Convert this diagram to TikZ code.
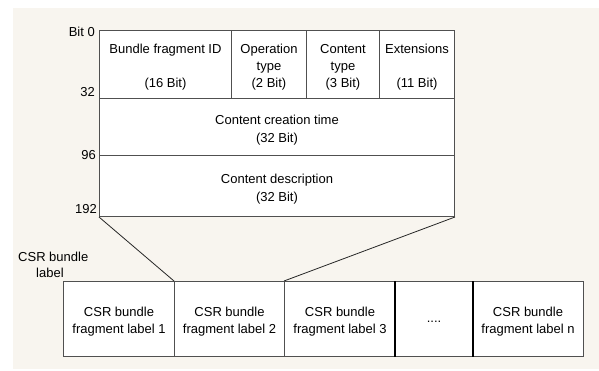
\documentclass[tikz,border=0pt]{standalone}
\usepackage{fontspec}
\setmainfont{Liberation Sans}
\definecolor{bgbeige}{RGB}{248,245,239}
\definecolor{linegray}{RGB}{80,80,80}
\begin{document}
\begin{tikzpicture}[x=1pt,y=-1pt,
  cell/.style={draw=linegray, fill=white, line width=1pt, inner sep=0pt,
    anchor=north west},
  txt/.style={inner sep=0pt, align=center, font=\fontsize{13}{16.8}\selectfont},
  lbl/.style={inner sep=0pt, font=\fontsize{13}{17}\selectfont},
  link/.style={draw=black!85, line width=0.8pt}]
\useasboundingbox (0,0) rectangle (599,370);
\fill[bgbeige] (13,8) rectangle (599,369);
% top structure
\node[cell, minimum width=132pt, minimum height=67.7pt] (c1) at (99,30) {};
\node[cell, minimum width=75pt, minimum height=67.7pt] (c2) at (231,30) {};
\node[cell, minimum width=73pt, minimum height=67.7pt] (c3) at (306,30) {};
\node[cell, minimum width=75pt, minimum height=67.7pt] (c4) at (379,30) {};
\node[cell, minimum width=355pt, minimum height=57.3pt] (r2) at (99,97.7) {};
\node[cell, minimum width=355pt, minimum height=61pt] (r3) at (99,155) {};
\node[txt] (t1) at ([yshift=-3pt]c1.center) {Bundle fragment ID\\[16.8pt](16 Bit)};
\node[txt] (t2) at ([yshift=-3pt]c2.center) {Operation\\type\\(2 Bit)};
\node[txt] (t3) at ([yshift=-3pt]c3.center) {Content\\type\\(3 Bit)};
\node[txt] (t4) at ([yshift=-3pt]c4.center) {Extensions\\[16.8pt](11 Bit)};
\node[txt] (t5) at ([yshift=-3pt]r2.center) {Content creation time\\[1.5pt](32 Bit)};
\node[txt] (t6) at ([yshift=-3pt]r3.center) {Content description\\[1.5pt](32 Bit)};
% bit offsets
\node[lbl, anchor=base east] (l0) at (95,36) {Bit 0};
\node[lbl, anchor=base east] (l32) at (95,96) {32};
\node[lbl, anchor=base east] (l96) at (96,159) {96};
\node[lbl, anchor=base east] (l192) at (97,213.5) {192};
% bundle label
\node[lbl, anchor=base west] (csr) at (18,261) {CSR bundle};
\node[lbl, anchor=base west] (csrl) at (36,277) {label};
% bottom boxes
\node[cell, minimum width=111pt, minimum height=75pt] (b1) at (63,281) {};
\node[cell, minimum width=110pt, minimum height=75pt] (b2) at (174,281) {};
\node[cell, minimum width=111pt, minimum height=75pt] (b3) at (284,281) {};
\node[cell, minimum width=77pt, minimum height=75pt] (b4) at (395,281) {};
\node[cell, minimum width=111pt, minimum height=75pt] (b5) at (472,281) {};
\draw[black, line width=1.3pt] (b4.north west) -- (b4.south west) (b4.north east) -- (b4.south east);
\node[txt] (s1) at ([yshift=-2.5pt]b1.center) {CSR bundle\\fragment label 1};
\node[txt] (s2) at ([yshift=-2.5pt]b2.center) {CSR bundle\\fragment label 2};
\node[txt] (s3) at ([yshift=-2.5pt]b3.center) {CSR bundle\\fragment label 3};
\node[txt] (s4) at ([yshift=-2.5pt]b4.center) {....};
\node[txt] (s5) at ([yshift=-2.5pt]b5.center) {CSR bundle\\fragment label n};
% connectors
\draw[link] (r3.south west) -- (b2.north west);
\draw[link] (r3.south east) -- (b3.north west);
\end{tikzpicture}
\end{document}
